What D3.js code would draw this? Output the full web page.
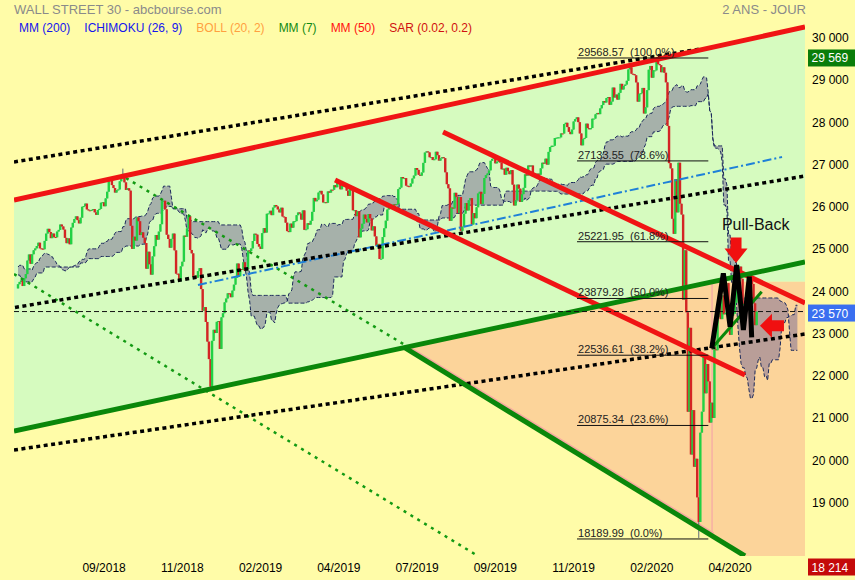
<!DOCTYPE html>
<html><head><meta charset="utf-8">
<script src="https://cdn.jsdelivr.net/npm/d3@7"></script>
<style>
html,body{margin:0;padding:0;background:#FFFCA8;}
svg{display:block;font-family:"Liberation Sans",Arial,sans-serif;}
</style></head><body>
<svg id="chart" width="855" height="580"></svg>
<script>
// ---------------- DATA ----------------
// daily closes before the visible window (09/03/2018 - 27/06/2018), used by Ichimoku
const closesPre = [25336,25178,25008,24758,24873,24947,24611,24727,24683,23958,23533,24202,23857,23849,24103,
 23644,24033,24264,24505,23933,23979,24408,24190,24484,24361,24573,24787,24748,24665,24463,24448,24024,24084,24323,24311,24163,
 24100,23925,23930,24263,24358,24361,24543,24740,24831,24900,24707,24769,24714,24715,25013,24834,24887,24812,24753,24362,24668,24416,
 24635,24814,24799,25146,25241,25317,25322,25320,25201,25175,25090,24987,24700,24657,24461,24580,24252,24283,24117];
// visible window, from 28/06/2018
const closes2018 = [24216,24271,
 24307,24174,24357,24456,24776,24920,24700,24925,25019,25064,25120,25199,25065,25058,25044,25241,25415,25527,25451,25307,25415,
 25333,25327,25463,25502,25629,25583,25509,25313,25188,25300,25162,25558,25669,25758,25822,25733,25656,25790,26049,26064,26124,25986,25965,
 25952,25975,25995,25917,25857,25971,25999,26145,26155,26062,26247,26405,26657,26744,26562,26492,26385,26440,26458,
 26651,26774,26828,26627,26447,26487,26431,25599,25053,25340,25250,25798,25707,25380,25444,25317,25191,24583,24985,24689,24443,24875,25116,
 25381,25271,25462,25636,26181,26192,25990,25388,25287,25081,25290,25414,25018,24466,24465,24286,24640,24749,25366,25339,25538,
 25826,25027,24947,24389,24423,24370,24527,24597,24101,23592,23675,23324,22859,22445,21792,22878,23138,23062,23327];
const closes2019 = [23346,22686,23433,23531,23787,23879,24001,23996,23910,24066,24207,24370,24706,24404,24576,24554,24737,24528,24580,25015,24999,
 25064,25239,25411,25390,25169,25106,25053,25425,25543,25439,25883,25891,25954,25851,26031,26091,26057,25986,25916,
 26026,25819,25806,25673,25473,25450,25650,25555,25702,25709,25849,25914,25887,25746,25963,25502,25517,25658,25626,25717,25929,
 26258,26179,26218,26385,26425,26341,26150,26157,26143,26412,26384,26453,26450,26559,26511,26656,26597,26462,26543,26554,26593,
 26430,26308,26505,26438,25965,25968,25828,25942,25325,25532,25648,25863,25764,25680,25877,25776,25490,25586,25348,25126,25170,24815,
 24819,25332,25540,25720,25984,26062,26049,26004,26107,26090,26112,26466,26504,26753,26719,26727,26548,26536,26527,26600,
 26718,26787,26966,26922,26806,26784,26860,27088,27332,27359,27336,27220,27223,27154,27172,27350,27270,27141,27192,27222,27199,26864,
 26583,26485,25718,26030,26008,26379,26287,25897,26280,25480,25579,25886,26136,25962,26203,26253,25629,25899,25778,26036,26363,26403,
 26118,26356,26728,26797,26836,26910,27137,27182,27220,27076,27111,27147,27095,26935,26950,26808,26971,26891,26820,26917,
 26573,26079,26202,26573,26478,26165,26347,26497,26817,26787,27025,27001,27026,26770,26828,26788,26834,26806,26958,27091,27072,27186,27046,
 27347,27462,27492,27493,27675,27681,27691,27691,27784,27782,28005,28036,27934,27821,27767,27876,28066,28122,28164,28051,
 27783,27503,27650,27678,28015,27910,27882,27911,28132,28135,28236,28268,28240,28377,28455,28551,28516,28621,28645,28462,28538];
const closes2020 = [28868,28634,28703,28584,28745,28957,28824,28908,28940,29030,29298,29348,29196,29186,29160,28990,28536,28723,28735,28860,28256,
 28400,28808,29291,29380,29103,29276,29276,29551,29424,29398,29232,29348,29220,28992,27961,27081,26957,25766,25409,
 26703,25917,27091,26121,25865,23851,25018,23553,21200,23185,20189,21237,19899,20087,19174,18592,20705,21201,22552,21637,22328,21917,
 20944,21413,21053,22680,22654,23434,23720,23391,23950,23505,23538,24242,23650,23019,23475,23516,23775,24134,24101,24634,24346,
 23724,23750,23883,23665,23876,24331,24222,23765,23248,23570];
// intraday extremes known for a few bars: [visible index, value]
const knownHighs = [[67,26951.81],[408,29568.57]];
const knownLows = [[123,21712.53],[435,18213.65]];

const xTickIndex = [55,105,155,205,255,305,355,405,455];
const xTickLabels = ["09/2018","11/2018","02/2019","04/2019","07/2019","09/2019","11/2019","02/2020","04/2020"];
const yTicks = [19000,20000,21000,22000,23000,24000,25000,26000,27000,28000,29000,30000];

const fibPrices = [29568.57,27133.55,25221.95,23879.28,22536.61,20875.34,18189.99];
const fibPcts = [100.0,78.6,61.8,50.0,38.2,23.6,0.0];
const fibRange = [357.2,441.1];

const legendNames = ["MM (200)","ICHIMOKU (26, 9)","BOLL (20, 2)","MM (7)","MM (50)","SAR (0.02, 0.2)"];
const legendColors = ["#1515ee","#1515ee","#ffa040","#138a13","#ff1010","#d01010"];

const priceHigh = 29569, priceLast = 23570, priceLow = 18214;

// trend lines: [index, price] anchors
const redTop = [[-2.556,26209],[502.875,30302]];
const greenRise = [[-2.556,20744],[502.875,24742]];
const greenFall = [[247.3,22708],[464.5,17787]];
const redMid = [[202.6,26682],[464.5,22069]];
const redUpper = [[271.6,27818],[502.9,23772]];
const blackDotTop = [[-2.556,27108],[435.8,29781]];
const blackDotMid = [[-1.92,23666],[502.9,26777]];
const blackDotLow = [[-2.556,20295],[502.9,23039]];
const greenDotLow = [[-2.556,24458],[293.9,17787]];
const greenDotUp = [[69.0,26729],[247.3,22779]];
const blueDashDot = [[115.0,24198],[488.2,27226]];
const wedgeEndIdx = 443.5;
const mPattern = [[443.3,22700],[450.7,24475],[455,23211],[459.2,24671],[463.5,23133],[467.3,24394],[468.8,22960]];
const greenThin = [[443.3,22700],[475.2,24039]];
const arrowDownTip = [458.8,24718];
const arrowLeftTip = [474.1,23235];
const pullBackAt = [449.8,25499];

// ---------------- CHART ----------------
const svg = d3.select("#chart");
const xS = d3.scaleLinear().domain([-2.556,502.875]).range([14,805]);
const yS = d3.scaleLinear().domain([17787,30420]).range([556,22]);
const [iL,iR] = xS.domain();
const pMin = yS.domain()[0];
const pt = (i,p)=>[xS(i),yS(p)];
const lineAt = (L,i)=>L[0][1]+(L[1][1]-L[0][1])*(i-L[0][0])/(L[1][0]-L[0][0]);
function intersect(L1,L2){
  const s1=(L1[1][1]-L1[0][1])/(L1[1][0]-L1[0][0]);
  const s2=(L2[1][1]-L2[0][1])/(L2[1][0]-L2[0][0]);
  const i=(L2[0][1]-s2*L2[0][0]-L1[0][1]+s1*L1[0][0])/(s1-s2);
  return [i,lineAt(L1,i)];
}
const fmt = v=>d3.format(",")(v).replace(/,/g," ");

svg.append("rect").attr("width",855).attr("height",580).attr("fill","#FFFCA8");
const defs = svg.append("defs");
defs.append("clipPath").attr("id","plotClip").append("rect").attr("x",14).attr("y",22).attr("width",791).attr("height",534);

const pSplit = lineAt(greenRise,wedgeEndIdx);
const greenPoly = [pt(iL,lineAt(redTop,iL)),pt(iR,lineAt(redTop,iR)),pt(iR,pSplit),pt(wedgeEndIdx,pSplit),pt(iL,lineAt(greenRise,iL))];
const A = intersect(greenRise,greenFall);
const orangePoly = [pt(A[0],A[1]),pt(wedgeEndIdx,pSplit),pt(iR,pSplit),pt(iR,pMin),pt(greenFall[1][0],pMin)];
defs.append("clipPath").attr("id","orangeClip").append("polygon").attr("points",orangePoly.map(d=>d.join(",")).join(" "));

const g = svg.append("g").attr("clip-path","url(#plotClip)");
g.append("polygon").attr("points",greenPoly.map(d=>d.join(",")).join(" ")).attr("fill","#D6FBBF");
g.append("polygon").attr("points",orangePoly.map(d=>d.join(",")).join(" ")).attr("fill","#FCD49A");
g.append("path").attr("clip-path","url(#orangeClip)")
  .attr("d",d3.line()([pt(A[0],A[1]),pt(wedgeEndIdx,lineAt(greenFall,wedgeEndIdx))]))
  .attr("stroke","#F7A9A0").attr("stroke-width",8).attr("fill","none");
g.append("path").attr("d",d3.line()([pt(wedgeEndIdx,pSplit),pt(wedgeEndIdx,lineAt(greenFall,wedgeEndIdx))]))
  .attr("stroke","#F7AFA5").attr("stroke-width",1.5).attr("fill","none");

// candles & ichimoku
const all = closesPre.concat(closes2018,closes2019,closes2020);
const off = closesPre.length;
const opens = all.map((c,k)=>k===0?c:all[k-1]);
const hi = all.map((c,k)=>Math.max(c,opens[k]));
const lo = all.map((c,k)=>Math.min(c,opens[k]));
knownHighs.forEach(([i,v])=>{ hi[i+off]=Math.max(hi[i+off],v); });
knownLows.forEach(([i,v])=>{ lo[i+off]=Math.min(lo[i+off],v); });
const mid = (k,n)=>{ const s=Math.max(0,k-n+1); return (d3.max(hi.slice(s,k+1))+d3.min(lo.slice(s,k+1)))/2; };
const lastIdx = all.length-1-off;
const cloud = [];
for(let j=0;j<=lastIdx+26;j++){
  const k=j-26+off;
  if(k<0) continue;
  const a=(mid(k,9)+mid(k,26))/2, b=mid(k,52);
  cloud.push({i:j,a,b});
}
g.append("path").datum(cloud)
  .attr("d",d3.area().x(d=>xS(d.i)).y0(d=>yS(d.a)).y1(d=>yS(d.b)))
  .attr("fill","rgba(118,104,150,0.5)");
["a","b"].forEach(key=>{
  g.append("path").datum(cloud)
    .attr("d",d3.line().x(d=>xS(d.i)).y(d=>yS(d[key])))
    .attr("fill","none").attr("stroke","#1c2a5c").attr("stroke-width",1).attr("stroke-dasharray","4,2");
});

const candles = d3.range(0,lastIdx+1).map(i=>({i,o:opens[i+off],c:all[i+off],h:hi[i+off],l:lo[i+off]}));
const cg = g.append("g");
cg.selectAll("line").data(candles).join("line")
  .attr("x1",d=>xS(d.i)).attr("x2",d=>xS(d.i))
  .attr("y1",d=>yS(d.h)).attr("y2",d=>yS(d.l))
  .attr("stroke","#5d6878").attr("stroke-width",1);
cg.selectAll("rect").data(candles).join("rect")
  .attr("x",d=>xS(d.i)-1.2).attr("width",2.4)
  .attr("y",d=>yS(Math.max(d.o,d.c)))
  .attr("height",d=>Math.max(1,Math.abs(yS(d.o)-yS(d.c))))
  .attr("fill",d=>d.c>=d.o?"#22d144":"#d42424");

// trend lines
const drawLine=(L,color,w,dash)=>{
  const p=g.append("path").attr("d",d3.line()(L.map(d=>pt(d[0],d[1]))))
   .attr("fill","none").attr("stroke",color).attr("stroke-width",w);
  if(dash) p.attr("stroke-dasharray",dash);
  return p;
};
drawLine(greenDotLow,"#139a13",2.5,"3,5");
drawLine(greenDotUp,"#139a13",2.5,"3,5");
drawLine(blueDashDot,"#1e80d8",2,"9,3,2,3");
drawLine(blackDotTop,"#000",3.5,"4,3.5");
drawLine(blackDotMid,"#000",3.5,"4,3.5");
drawLine(blackDotLow,"#000",3.5,"4,3.5");
drawLine(redTop,"#f01414",5);
drawLine(redMid,"#f01414",5);
drawLine(redUpper,"#f01414",5);
drawLine(greenRise,"#0a870a",5);
drawLine(greenFall,"#0a870a",5);

// fibonacci levels
fibPrices.forEach((p,k)=>{
  g.append("line").attr("x1",xS(fibRange[0])).attr("x2",xS(fibRange[1]))
    .attr("y1",yS(p)).attr("y2",yS(p)).attr("stroke","#111").attr("stroke-width",1);
  g.append("text").attr("x",xS(fibRange[0])+1).attr("y",yS(p)-2)
    .attr("font-size",11).attr("fill","#222").attr("xml:space","preserve")
    .text(p.toFixed(2)+"  ("+fibPcts[k].toFixed(1)+"%)");
});

// current price dashed line
g.append("line").attr("x1",14).attr("x2",805).attr("y1",yS(priceLast)).attr("y2",yS(priceLast))
  .attr("stroke","#111").attr("stroke-width",1).attr("stroke-dasharray","5,3");

// annotations
drawLine(greenThin,"#0a870a",3);
g.append("path").attr("d",d3.line()(mPattern.map(d=>pt(d[0],d[1]))))
  .attr("fill","none").attr("stroke","#000").attr("stroke-width",5).attr("stroke-linejoin","miter");
const [dx,dy]=pt(arrowDownTip[0],arrowDownTip[1]);
g.append("path").attr("d",`M${dx},${dy} l-11.5,-14.5 h6 v-11 h11 v11 h6 z`).attr("fill","#f01010");
const [lx,ly]=pt(arrowLeftTip[0],arrowLeftTip[1]);
g.append("path").attr("d",`M${lx},${ly} l12,-12 v6.5 h12 v11 h-12 v6.5 z`).attr("fill","#f01010");
g.append("text").attr("x",xS(pullBackAt[0])).attr("y",yS(pullBackAt[1]))
  .attr("font-size",16).attr("fill","#111").text("Pull-Back");

// price axis
svg.append("g").selectAll("text").data(yTicks).join("text")
  .attr("x",812).attr("y",d=>yS(d)+2.3).attr("font-size",12).attr("fill","#000").text(fmt);
const badge=(v,yc,color)=>{
  svg.append("rect").attr("x",808).attr("y",yc-8.5).attr("width",47).attr("height",17).attr("fill",color);
  svg.append("text").attr("x",811.5).attr("y",yc+4.5).attr("font-size",12).attr("fill","#fff").text(fmt(v));
};
badge(priceHigh,yS(priceHigh),"#0a7d0a");
badge(priceLast,yS(priceLast)+1.5,"#3a6ff0");
badge(priceLow,yS.range()[0]+11,"#c40a0a");

// time axis
svg.append("g").selectAll("text").data(xTickIndex).join("text")
  .attr("x",d=>xS(d)).attr("y",572).attr("text-anchor","middle").attr("font-size",12).attr("fill","#000")
  .text((d,k)=>xTickLabels[k]);

// header
svg.append("text").attr("x",14).attr("y",13.6).attr("font-size",13).attr("fill","#8a8a8a").text("WALL STREET 30 - abcbourse.com");
svg.append("text").attr("x",806).attr("y",13.6).attr("text-anchor","end").attr("font-size",13).attr("fill","#8a8a8a").text("2 ANS - JOUR");
let lxPos=19;
legendNames.forEach((n,k)=>{
  const t=svg.append("text").attr("x",lxPos).attr("y",32.3).attr("font-size",12).attr("fill",legendColors[k]).text(n);
  lxPos+=t.node().getComputedTextLength()+14;
});
</script>
</body></html>
